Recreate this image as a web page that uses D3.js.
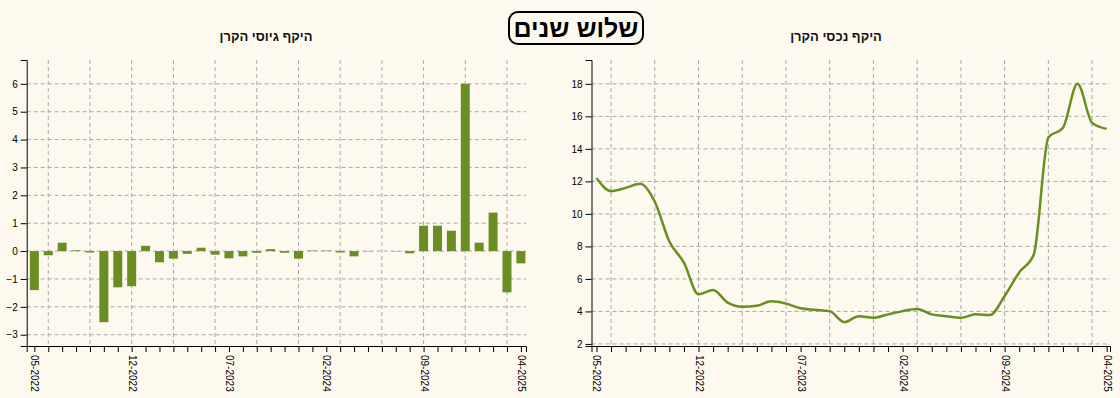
<!DOCTYPE html>
<html lang="he">
<head>
<meta charset="utf-8">
<script src="https://cdn.jsdelivr.net/npm/d3@7.9.0/dist/d3.min.js"></script>
<style>
  body { margin: 0; background: #fdf9ef; }
  svg { display: block; background: #fdf9ef; }
  svg text { font-family: Arial, "Liberation Sans", "DejaVu Sans", sans-serif; }
  .grid line { stroke: #a9a9a9; stroke-width: 1; stroke-dasharray: 4,3; }
  .axis path, .axis line { stroke: #000; }
  .axis text { fill: #000; font-size: 10px; }
  .panel-title { font-size: 13px; font-weight: bold; fill: #111; }
</style>
</head>
<body>
<svg id="chart" width="1120" height="398"></svg>
<script>
// monthly categories (x axis)
const months = [
  '05-2022','06-2022','07-2022','08-2022','09-2022','10-2022','11-2022','12-2022',
  '01-2023','02-2023','03-2023','04-2023','05-2023','06-2023','07-2023','08-2023',
  '09-2023','10-2023','11-2023','12-2023','01-2024','02-2024','03-2024','04-2024',
  '05-2024','06-2024','07-2024','08-2024','09-2024','10-2024','11-2024','12-2024',
  '01-2025','02-2025','03-2025','04-2025'
];

// labelled ticks
const tickLabels = ['05-2022', '12-2022', '07-2023', '02-2024', '09-2024', '04-2025'];

// היקף גיוסי הקרן (bars)
const raisingValues = [
  -1.40, -0.15, 0.30, 0.03, -0.05, -2.55, -1.30, -1.26, 0.19, -0.40, -0.27, -0.10,
  0.12, -0.13, -0.26, -0.19, -0.06, 0.07, -0.06, -0.27, 0.02, 0.02, -0.05, -0.19,
  -0.01, 0.00, -0.01, -0.08, 0.91, 0.91, 0.73, 6.00, 0.30, 1.38, -1.48, -0.44
];

// היקף נכסי הקרן (line)
const assetValues = [
  12.2, 11.4, 11.6, 11.85, 10.75, 8.3, 7.0, 5.05, 5.32, 4.54, 4.29, 4.35,
  4.62, 4.48, 4.19, 4.1, 4.02, 3.34, 3.71, 3.61, 3.82, 4.02, 4.15, 3.82,
  3.71, 3.61, 3.82, 3.78, 4.95, 6.4, 7.5, 14.7, 15.3, 18.0, 15.6, 15.23
];

const svg = d3.select('#chart');
const plotTop = 60, plotBottom = 346;
const green = '#6b8e23';

function drawPanel({ x0, x1, pad, values, title, titleX, kind }) {
  const g = svg.append('g');

  const x = d3.scalePoint().domain(months).range([x0, x1]).padding(pad).align(0.6);
  const [lo, hi] = d3.extent(values);
  const span = hi - lo;
  const y = d3.scaleLinear()
    .domain([lo - span * 0.1, hi + span * 0.1])
    .range([plotBottom, plotTop]);

  // dashed grid
  g.append('g').attr('class', 'grid')
    .selectAll('line')
    .data(y.ticks())
    .join('line')
    .attr('x1', x0).attr('x2', x1)
    .attr('y1', d => y(d)).attr('y2', d => y(d));

  g.append('g').attr('class', 'grid')
    .selectAll('line')
    .data(months.filter((m, i) => i % 3 === 1))
    .join('line')
    .attr('x1', d => x(d)).attr('x2', d => x(d))
    .attr('y1', plotTop).attr('y2', plotBottom);

  const data = months.map((m, i) => ({ month: m, value: values[i] }));

  if (kind === 'bar') {
    const barW = 9;
    g.append('g')
      .selectAll('rect')
      .data(data)
      .join('rect')
      .attr('x', d => x(d.month) - barW / 2)
      .attr('width', barW)
      .attr('y', d => y(Math.max(0, d.value)))
      .attr('height', d => Math.abs(y(d.value) - y(0)))
      .attr('fill', green);
  } else {
    const line = d3.line()
      .x(d => x(d.month))
      .y(d => y(d.value))
      .curve(d3.curveMonotoneX);
    g.append('path')
      .datum(data)
      .attr('d', line)
      .attr('fill', 'none')
      .attr('stroke', green)
      .attr('stroke-width', 2.5);
  }

  // axes
  g.append('g')
    .attr('class', 'axis')
    .attr('transform', `translate(${x0},0)`)
    .call(d3.axisLeft(y));

  g.append('g')
    .attr('class', 'axis')
    .attr('transform', `translate(0,${plotBottom})`)
    .call(d3.axisBottom(x).tickFormat(d => tickLabels.includes(d) ? d : ''))
    .selectAll('text')
    .attr('transform', 'rotate(90)')
    .attr('x', 9)
    .attr('y', 0)
    .attr('dy', '.35em')
    .style('text-anchor', 'start');

  g.selectAll('.axis').attr('font-family', null);

  g.append('text')
    .attr('class', 'panel-title')
    .attr('x', titleX)
    .attr('y', 41)
    .attr('text-anchor', 'middle')
    .attr('direction', 'rtl')
    .text(title);
}

drawPanel({ x0: 26.7, x1: 526, pad: 0.46, values: raisingValues,
  title: 'היקף גיוסי הקרן', titleX: 266, kind: 'bar' });
drawPanel({ x0: 591.5, x1: 1110, pad: 0.285, values: assetValues,
  title: 'היקף נכסי הקרן', titleX: 836, kind: 'line' });

// main heading in a rounded box
svg.append('rect')
  .attr('x', 509).attr('y', 12)
  .attr('width', 134).attr('height', 32)
  .attr('rx', 9)
  .attr('fill', 'none')
  .attr('stroke', '#000')
  .attr('stroke-width', 2);

svg.append('text')
  .attr('x', 576).attr('y', 37)
  .attr('text-anchor', 'middle')
  .attr('direction', 'rtl')
  .attr('font-size', 25)
  .attr('font-weight', 'bold')
  .attr('fill', '#000')
  .text('שלוש שנים');
</script>
</body>
</html>
